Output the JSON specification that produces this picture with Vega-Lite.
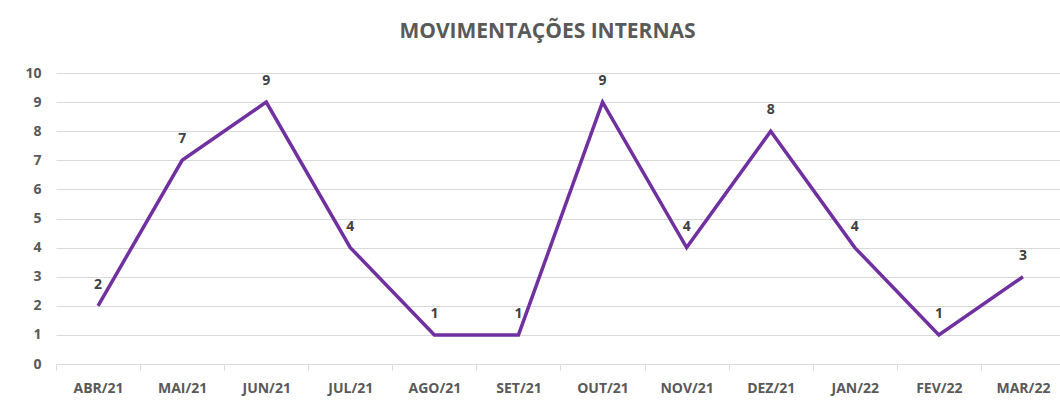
{
  "$schema": "https://vega.github.io/schema/vega-lite/v6.json",
  "autosize": "none",
  "width": 1009,
  "height": 291,
  "padding": {"left": 56, "top": 73, "right": 0, "bottom": 38},
  "background": "white",
  "config": {"view": {"stroke": null}, "font": "Lato"},
  "title": {
    "text": "MOVIMENTAÇÕES INTERNAS",
    "fontSize": 21,
    "fontWeight": "bold",
    "color": "#595959",
    "font": "Open Sans",
    "anchor": "middle",
    "dx": -13,
    "offset": 24
  },
  "data": {
    "values": [
      {"mes": "ABR/21", "valor": 2},
      {"mes": "MAI/21", "valor": 7},
      {"mes": "JUN/21", "valor": 9},
      {"mes": "JUL/21", "valor": 4},
      {"mes": "AGO/21", "valor": 1},
      {"mes": "SET/21", "valor": 1},
      {"mes": "OUT/21", "valor": 9},
      {"mes": "NOV/21", "valor": 4},
      {"mes": "DEZ/21", "valor": 8},
      {"mes": "JAN/22", "valor": 4},
      {"mes": "FEV/22", "valor": 1},
      {"mes": "MAR/22", "valor": 3}
    ]
  },
  "encoding": {
    "x": {
      "field": "mes",
      "type": "ordinal",
      "sort": null,
      "scale": {"type": "band", "paddingInner": 0, "paddingOuter": 0},
      "axis": {
        "title": null,
        "labelAngle": 0,
        "labelFont": "Open Sans",
        "labelFontSize": 14,
        "labelFontWeight": "bold",
        "labelColor": "#595959",
        "labelPadding": 11,
        "labelOverlap": false,
        "tickBand": "extent",
        "tickColor": "#d9d9d9",
        "tickSize": 6,
        "domainColor": "#d9d9d9",
        "domainWidth": 1,
        "grid": false
      }
    },
    "y": {
      "field": "valor",
      "type": "quantitative",
      "scale": {"domain": [0, 10], "nice": false},
      "axis": {
        "title": null,
        "values": [0,1,2,3,4,5,6,7,8,9,10],
        "labelOverlap": false,
        "labelFont": "Open Sans",
        "labelFontSize": 14,
        "labelFontWeight": "bold",
        "labelColor": "#595959",
        "labelPadding": 15,
        "ticks": false,
        "domain": false,
        "gridColor": "#d9d9d9",
        "gridWidth": 1
      }
    }
  },
  "layer": [
    {
      "mark": {"type": "line", "color": "#7030A0", "strokeWidth": 3.5, "strokeJoin": "miter"}
    },
    {
      "mark": {"type": "text", "dy": -21, "font": "Open Sans", "fontSize": 14, "fontWeight": "bold", "color": "#404040"},
      "encoding": {"text": {"field": "valor", "type": "quantitative"}}
    }
  ]
}
